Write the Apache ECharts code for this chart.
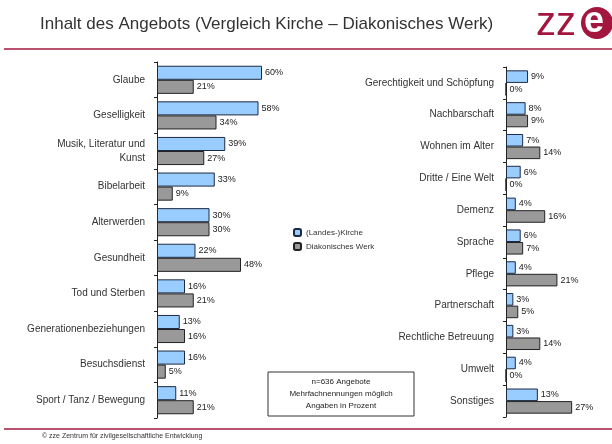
<!DOCTYPE html>
<html>
<head>
<meta charset="utf-8">
<script src="https://cdn.jsdelivr.net/npm/echarts@6/dist/echarts.min.js"></script>
<style>
  html, body { margin: 0; padding: 0; background: #fff; }
  #chart { width: 612px; height: 444px; }
</style>
</head>
<body>
<div id="chart"></div>
<script>
// linke Grafik
var catsLeft = ["Glaube", "Geselligkeit", "Musik, Literatur und\nKunst", "Bibelarbeit", "Alterwerden",
    "Gesundheit", "Tod und Sterben", "Generationenbeziehungen", "Besuchsdienst", "Sport / Tanz / Bewegung"];
var kircheLeft = [60, 58, 39, 33, 30, 22, 16, 13, 16, 11];
var diakonieLeft = [21, 34, 27, 9, 30, 48, 21, 16, 5, 21];

// rechte Grafik
var catsRight = ["Gerechtigkeit und Schöpfung", "Nachbarschaft", "Wohnen im Alter", "Dritte / Eine Welt", "Demenz",
    "Sprache", "Pflege", "Partnerschaft", "Rechtliche Betreuung", "Umwelt", "Sonstiges"];
var kircheRight = [9, 8, 7, 6, 4, 6, 4, 3, 3, 4, 13];
var diakonieRight = [0, 9, 14, 0, 16, 7, 21, 5, 14, 0, 27];

var seriesNames = ["(Landes-)Kirche", "Diakonisches Werk"];
var noteLines = ["n=636 Angebote", "Mehrfachnennungen möglich", "Angaben in Prozent"];

var FONT = "Liberation Sans, Arial, sans-serif";
var RED = "#a3173f";

function catAxis(idx, cats) {
    return {
        type: "category", gridIndex: idx, data: cats, inverse: true,
        axisLine: { show: true, lineStyle: { color: "#222", width: 1 } },
        axisTick: { show: true, length: 3, lineStyle: { color: "#222" } },
        axisLabel: { fontSize: 10, color: "#333", margin: 12, fontFamily: FONT, lineHeight: 14 }
    };
}
function barSeries(name, idx, data, color, border) {
    return {
        type: "bar", name: name, xAxisIndex: idx, yAxisIndex: idx, data: data,
        barGap: "0%", barCategoryGap: "21%",
        itemStyle: { color: color, borderColor: border, borderWidth: 1 },
        label: { show: true, position: "right", distance: 3, formatter: "{c}%",
            fontSize: 9, color: "#222", fontFamily: FONT },
        animation: false
    };
}

var chart = echarts.init(document.getElementById("chart"));
chart.setOption({
    backgroundColor: "#fff",
    animation: false,
    textStyle: { fontFamily: FONT },
    title: {
        text: "Inhalt des Angebots (Vergleich Kirche – Diakonisches Werk)",
        left: 35, top: 11,
        textStyle: { fontSize: 17, fontWeight: "normal", color: "#333", fontFamily: FONT }
    },
    legend: {
        data: seriesNames, orient: "vertical", left: 288, top: 223,
        itemWidth: 7, itemHeight: 7, itemGap: 5,
        textStyle: { fontSize: 8, color: "#333", fontFamily: FONT }
    },
    grid: [
        { left: 157, top: 62, width: 175, height: 356 },
        { left: 506, top: 67, width: 98, height: 350 }
    ],
    xAxis: [
        { type: "value", gridIndex: 0, min: 0, max: 100, show: false },
        { type: "value", gridIndex: 1, min: 0, max: 40, show: false }
    ],
    yAxis: [catAxis(0, catsLeft), catAxis(1, catsRight)],
    series: [
        barSeries(seriesNames[0], 0, kircheLeft, "#99ccff", "#1c2a44"),
        barSeries(seriesNames[1], 0, diakonieLeft, "#999999", "#222"),
        barSeries(seriesNames[0], 1, kircheRight, "#99ccff", "#1c2a44"),
        barSeries(seriesNames[1], 1, diakonieRight, "#999999", "#222")
    ],
    graphic: [
        // Trennlinien
        { type: "line", shape: { x1: 4, y1: 49, x2: 612, y2: 49 }, style: { stroke: RED, lineWidth: 1.5 } },
        { type: "line", shape: { x1: 4, y1: 429, x2: 612, y2: 429 }, style: { stroke: RED, lineWidth: 1.5 } },
        // Logo
        { type: "text", left: 536, top: 4, style: { text: "zz", fontSize: 40, fill: RED, fontFamily: FONT } },
        { type: "circle", shape: { cx: 597, cy: 23, r: 16 }, style: { fill: RED } },
        { type: "text", left: 584, top: 4, style: { text: "e", fontSize: 36, fill: "#fff", fontFamily: FONT, fontWeight: "bold" } },
        // Hinweisbox
        { type: "rect", shape: { x: 268, y: 372, width: 146, height: 44 },
            style: { fill: "#fff", stroke: "#333", lineWidth: 1 } },
        { type: "text", x: 341, y: 376, style: { text: noteLines.join("\n"), fontSize: 8, lineHeight: 12,
            align: "center", fill: "#222", fontFamily: FONT } },
        // Fusszeile
        { type: "text", left: 42, top: 433, style: { text: "© zze Zentrum für zivilgesellschaftliche Entwicklung",
            fontSize: 7, fill: "#333", fontFamily: FONT } }
    ]
});
</script>
</body>
</html>
